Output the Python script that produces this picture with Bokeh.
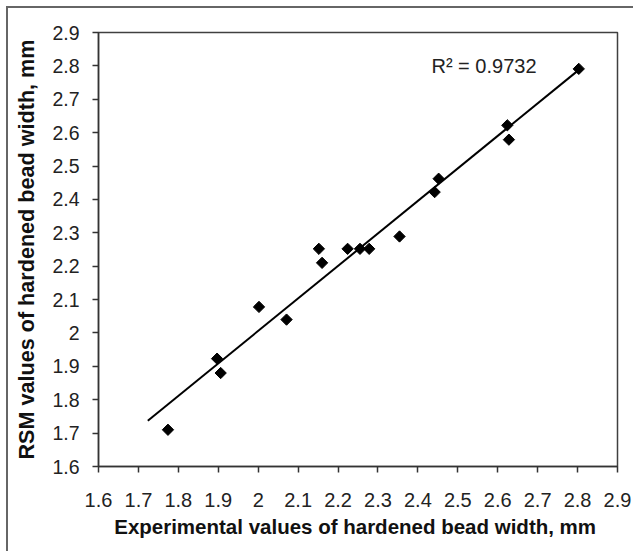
import numpy as np
from bokeh.plotting import figure
from bokeh.models import Range1d, FixedTicker
from bokeh.core.properties import value
from bokeh.embed import file_html
from bokeh.resources import INLINE

# Data
experimental = [1.774, 1.897, 1.906, 2.002, 2.071, 2.152, 2.160, 2.224, 2.255, 2.278,
                2.354, 2.442, 2.452, 2.624, 2.628, 2.803]
rsm = [1.710, 1.923, 1.880, 2.078, 2.040, 2.252, 2.210, 2.252, 2.252, 2.252,
       2.289, 2.422, 2.462, 2.622, 2.579, 2.791]
ticks = [1.6, 1.7, 1.8, 1.9, 2.0, 2.1, 2.2, 2.3, 2.4, 2.5, 2.6, 2.7, 2.8, 2.9]
tick_labels = ["1.6", "1.7", "1.8", "1.9", "2", "2.1", "2.2", "2.3", "2.4", "2.5",
               "2.6", "2.7", "2.8", "2.9"]
trend_x = [1.7235, 2.807]
r2_label = "R² = 0.9732"

slope, intercept = np.polyfit(experimental, rsm, 1)
trend_y = [slope * x + intercept for x in trend_x]

FONT = "Liberation Sans"

p = figure(width=627, height=545, output_backend="svg", toolbar_location=None,
           x_range=Range1d(1.6, 2.9), y_range=Range1d(1.6, 2.9),
           min_border_left=90, min_border_right=18, min_border_top=24, min_border_bottom=87)
p.styles = {"margin-left": "6px", "margin-top": "6px",
            "border-left": "2px solid #666666", "border-top": "2px solid #666666"}

p.xgrid.visible = False
p.ygrid.visible = False
p.outline_line_color = "#404040"
p.outline_line_width = 1.5

overrides = {t: l for t, l in zip(ticks, tick_labels)}
for ax in (p.xaxis[0], p.yaxis[0]):
    ax.ticker = FixedTicker(ticks=ticks)
    ax.major_label_overrides = overrides
    ax.minor_tick_line_color = None
    ax.axis_line_color = "#333333"
    ax.axis_line_width = 1.5
    ax.major_tick_line_color = "#333333"
    ax.major_tick_line_width = 1.5
    ax.major_tick_in = 0
    ax.major_tick_out = 6
    ax.major_label_text_font = FONT
    ax.major_label_text_color = "#222222"
    ax.axis_label_text_font = FONT
    ax.axis_label_text_font_style = "bold"
    ax.axis_label_text_color = "#111111"

p.xaxis.major_label_text_font_size = "20px"
p.yaxis.major_label_text_font_size = "19.5px"
p.xaxis.axis_label = "Experimental  values of hardened bead width, mm"
p.yaxis.axis_label = "RSM values of hardened bead width, mm"
p.xaxis.axis_label_text_font_size = "20.5px"
p.yaxis.axis_label_text_font_size = "21.6px"
p.xaxis.major_label_standoff = 20
p.yaxis.major_label_standoff = 13
p.xaxis.axis_label_standoff = 5
p.yaxis.axis_label_standoff = 10

p.line(trend_x, trend_y, line_color="black", line_width=2)
p.scatter(experimental, rsm, marker="square", angle=np.pi / 4, size=8,
          fill_color="black", line_color="black")
p.text(x=[2.434], y=[2.80], text=[r2_label], text_font=value(FONT),
       text_font_size="20px", text_align="left", text_baseline="middle",
       text_color="#222222")

open("out.html", "w").write(file_html(p, INLINE))
